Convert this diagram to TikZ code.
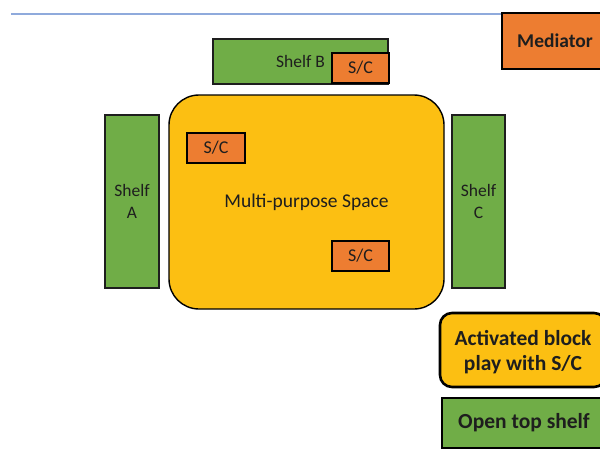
\documentclass[tikz,border=0pt]{standalone}
\usepackage{fontspec}
\setmainfont{Carlito}
\definecolor{shelfgreen}{HTML}{70AD47}
\definecolor{scorange}{HTML}{ED7D31}
\definecolor{spacegold}{HTML}{FCBF12}
\definecolor{rulerblue}{HTML}{8FAADC}
\definecolor{inkdark}{HTML}{1E1E1E}
\begin{document}
\begin{tikzpicture}[x=1pt,y=-1pt,
  shelfbox/.style={draw=inkdark,line width=1.4pt,fill=shelfgreen,inner sep=0pt,
    font=\fontsize{17.5}{21}\selectfont,align=center,text=inkdark},
  scbox/.style={draw=black,line width=1.4pt,fill=scorange,inner sep=0pt,
    font=\fontsize{18}{21}\selectfont,text=inkdark},
  spacebox/.style={draw=black,line width=1.4pt,fill=spacegold,rounded corners=30pt,
    inner sep=0pt,font=\fontsize{19.5}{23}\selectfont,text=inkdark},
  legendbox/.style={draw=black,line width=2.6pt,inner sep=0pt,align=center,
    font=\bfseries\fontsize{21.5}{25}\selectfont,text=inkdark}]
\useasboundingbox (0,0) rectangle (600,459);
\clip (0,0) rectangle (600,459);

% header rule and mediator tag
\coordinate (ruleL) at (11,14);
\node[legendbox,fill=scorange,minimum width=106pt,minimum height=56pt,
  font=\bfseries\fontsize{19.5}{23}\selectfont] (med) at (555,41) {Mediator};
\draw[rulerblue,line width=2.2pt] (ruleL) -- (med.west |- ruleL);

% shelf B with its S/C tag
\node[shelfbox,minimum width=175pt,minimum height=45pt] (shelfB) at (300.5,61.5) {Shelf B};
\node[scbox,minimum width=57pt,minimum height=30pt] (scB) at (360.5,68) {S/C};

% side shelves
\node[shelfbox,minimum width=54pt,minimum height=173pt] (shelfA) at (132,201.5) {Shelf\\[1pt]A};
\node[shelfbox,minimum width=53pt,minimum height=173pt] (shelfC) at (478.5,201.5) {Shelf\\[1pt]C};

% central space with two S/C tags
\node[spacebox,minimum width=275pt,minimum height=214pt] (space) at (306.5,202) {Multi-purpose Space};
\node[scbox,minimum width=58pt,minimum height=30pt] (sc1) at (216,148) {S/C};
\node[scbox,minimum width=57pt,minimum height=30pt] (sc2) at (360.5,256) {S/C};

% legend
\node[legendbox,fill=spacegold,rounded corners=12pt,minimum width=166pt,minimum height=74pt]
  (legA) at (523,350) {};
\node[legendbox,draw=none,fill=none] (legAtext) at (523,352) {Activated block\\play with S/C};
\node[legendbox,fill=shelfgreen,minimum width=164pt,minimum height=50pt]
  (legB) at (524,423) {Open top shelf};
\end{tikzpicture}
\end{document}
